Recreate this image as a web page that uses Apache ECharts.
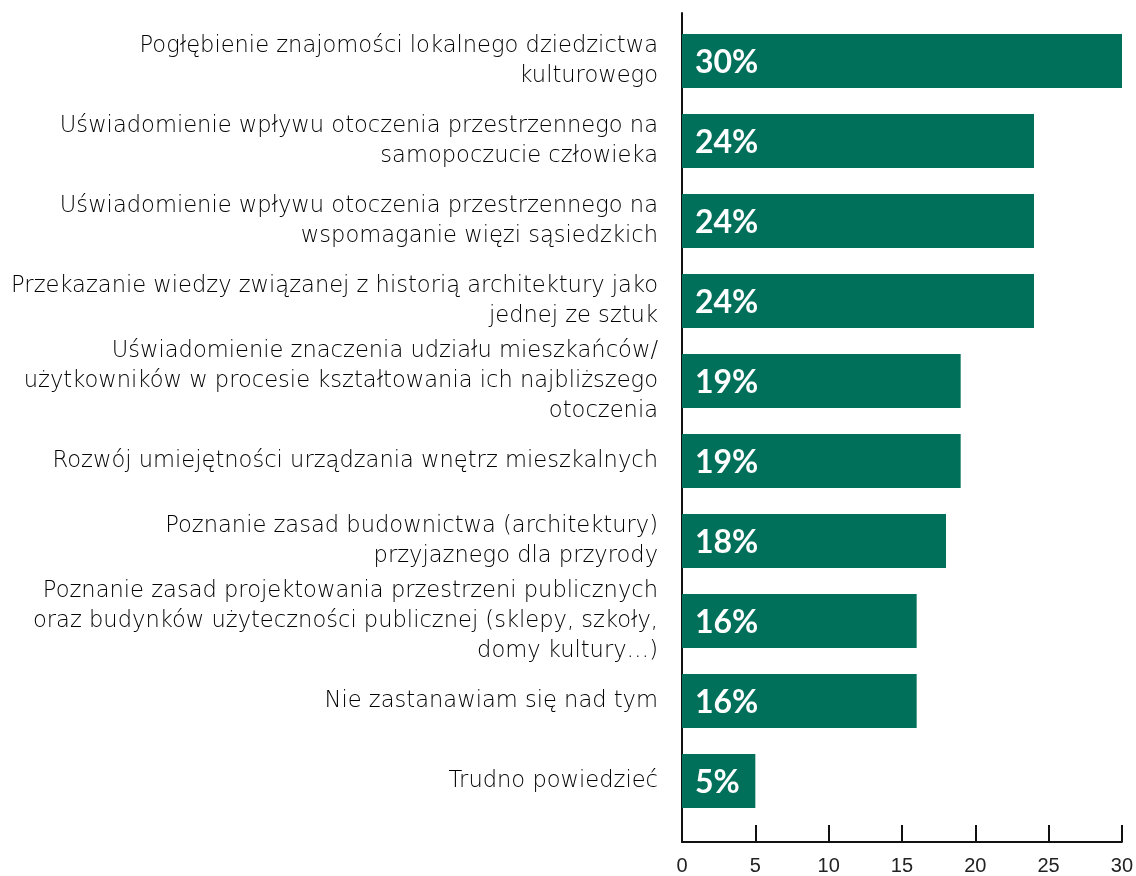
<!DOCTYPE html>
<html>
<head>
<meta charset="utf-8">
<script src="https://cdn.jsdelivr.net/npm/echarts@6/dist/echarts.min.js"></script>
<style>
  html, body { margin: 0; padding: 0; background: #fff; }
  #chart { width: 1136px; height: 876px; }
</style>
</head>
<body>
<div id="chart"></div>
<script>
// Answer categories, top to bottom
const categories = [
  'Pogłębienie znajomości lokalnego dziedzictwa\nkulturowego',
  'Uświadomienie wpływu otoczenia przestrzennego na\nsamopoczucie człowieka',
  'Uświadomienie wpływu otoczenia przestrzennego na\nwspomaganie więzi sąsiedzkich',
  'Przekazanie wiedzy związanej z historią architektury jako\njednej ze sztuk',
  'Uświadomienie znaczenia udziału mieszkańców/\nużytkowników w procesie kształtowania ich najbliższego\notoczenia',
  'Rozwój umiejętności urządzania wnętrz mieszkalnych',
  'Poznanie zasad budownictwa (architektury)\nprzyjaznego dla przyrody',
  'Poznanie zasad projektowania przestrzeni publicznych\noraz budynków użyteczności publicznej (sklepy, szkoły,\ndomy kultury…)',
  'Nie zastanawiam się nad tym',
  'Trudno powiedzieć'
];

// Share of responses, in percent
const values = [30, 24, 24, 24, 19, 19, 18, 16, 16, 5];

// Value axis range
const axisMin = 0;
const axisMax = 30;
const axisStep = 5;

const FONT = 'DejaVu Sans';
const GREEN = '#00705a';

const chart = echarts.init(document.getElementById('chart'), null, { renderer: 'canvas' });

chart.setOption({
  animation: false,
  backgroundColor: '#ffffff',
  grid: [
    // bars and category labels
    { left: 682, right: 14, top: 21, height: 800 },
    // frame: axis lines and ticks
    { left: 682, right: 14, top: 13, height: 831 }
  ],
  xAxis: [
    {
      gridIndex: 0, type: 'value', min: axisMin, max: axisMax, interval: axisStep,
      show: false
    },
    {
      gridIndex: 1, type: 'value', min: axisMin, max: axisMax, interval: axisStep,
      axisLine: { show: true, lineStyle: { color: '#111', width: 2 } },
      axisTick: { show: true, inside: true, length: 17, lineStyle: { color: '#111', width: 2 } },
      axisLabel: { color: '#222', fontFamily: 'Liberation Sans', fontSize: 20, margin: 14 },
      splitLine: { show: false }
    }
  ],
  yAxis: [
    {
      gridIndex: 0, type: 'category', data: categories, inverse: true,
      axisLine: { show: false },
      axisTick: { show: false },
      axisLabel: {
        color: '#000', fontFamily: FONT, fontWeight: 200, fontSize: 22.6, lineHeight: 30,
        margin: 24, align: 'right', padding: [13, 0, 0, 0]
      }
    },
    {
      gridIndex: 1, type: 'value', min: 0, max: 1,
      axisLine: { show: true, lineStyle: { color: '#111', width: 2 } },
      axisTick: { show: false },
      axisLabel: { show: false },
      splitLine: { show: false }
    }
  ],
  series: [
    {
      type: 'bar',
      xAxisIndex: 0,
      yAxisIndex: 0,
      data: values,
      barWidth: 54,
      itemStyle: { color: GREEN },
      label: {
        show: true,
        position: 'insideLeft',
        distance: 13,
        offset: [0, 2],
        formatter: '{c}%',
        color: '#ffffff',
        fontFamily: 'Lato',
        fontWeight: 'bold',
        fontSize: 32
      }
    }
  ]
});
</script>
</body>
</html>
